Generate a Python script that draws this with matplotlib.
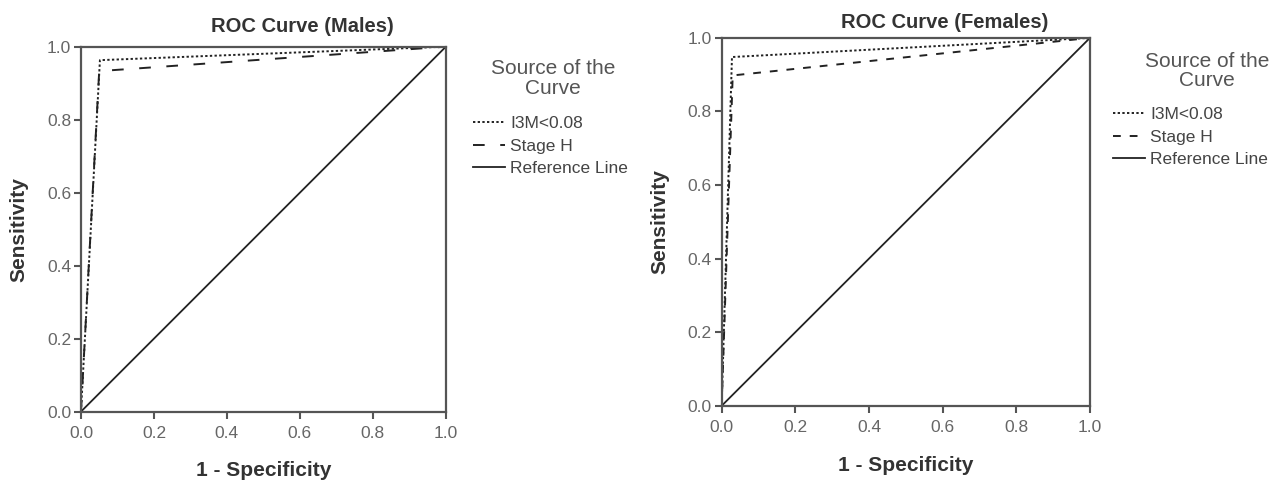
import matplotlib.pyplot as plt

plt.rcParams['font.family'] = ['Liberation Sans', 'DejaVu Sans']

# ROC points (1 - specificity, sensitivity)
males_i3m_fpr = [0.0, 0.052, 1.0]
males_i3m_tpr = [0.0, 0.963, 1.0]
males_stage_fpr = [0.0, 0.050, 1.0]
males_stage_tpr = [0.0, 0.933, 1.0]

females_i3m_fpr = [0.0, 0.028, 1.0]
females_i3m_tpr = [0.0, 0.948, 1.0]
females_stage_fpr = [0.0, 0.030, 1.0]
females_stage_tpr = [0.0, 0.898, 1.0]

ref_line = [0.0, 1.0]
ticks = [0.0, 0.2, 0.4, 0.6, 0.8, 1.0]
series_labels = ["I3M<0.08", "Stage H", "Reference Line"]

text_col = "#333333"
axis_col = "#555555"

W, H = 1285, 486
fig = plt.figure(figsize=(12.85, 4.86), dpi=100)
ax1 = fig.add_axes([0.063, 0.153, 0.284, 0.751])
ax2 = fig.add_axes([0.5616, 0.165, 0.2866, 0.757])


def draw_roc(ax, i3m_x, i3m_y, st_x, st_y, title, title_xy, leg_title_xy, legend_xy,
             xlab_y, ylab_x, dash):
    ax.plot(i3m_x, i3m_y, color="#222222", lw=1.4, linestyle=(0, (1.2, 1.2)), label=series_labels[0])
    ax.plot(st_x, st_y, color="#222222", lw=1.4, linestyle=(0, dash), label=series_labels[1])
    ax.plot(ref_line, ref_line, color="#222222", lw=1.3, label=series_labels[2])
    ax.set_xlim(0, 1)
    ax.set_ylim(0, 1)
    ax.set_xticks(ticks)
    ax.set_yticks(ticks)
    ax.set_xticklabels([f"{t:.1f}" for t in ticks])
    ax.set_yticklabels([f"{t:.1f}" for t in ticks])
    ax.tick_params(direction="out", length=5, width=1.5, color=axis_col,
                   labelsize=12.5, labelcolor="#666666", pad=2)
    ax.tick_params(axis="x", pad=5)
    for sp in ax.spines.values():
        sp.set_color(axis_col)
        sp.set_linewidth(1.6)
    ax.set_xlabel("1 - Specificity", fontsize=15, fontweight="bold", color=text_col, va="center")
    ax.set_ylabel("Sensitivity", fontsize=15, fontweight="bold", color=text_col, va="center")
    ax.xaxis.set_label_coords(0.5, xlab_y)
    ax.yaxis.set_label_coords(ylab_x, 0.5)
    fig.text(title_xy[0] / W, 1 - title_xy[1] / H, title, fontsize=14.5, fontweight="bold",
             color=text_col, ha="center", va="center")
    fig.text(leg_title_xy[0] / W, 1 - leg_title_xy[1] / H, "Source of the\nCurve",
             fontsize=15, color="#555555", ha="center", va="center",
             multialignment="center", linespacing=1.05)
    leg = ax.legend(loc="upper left", bbox_to_anchor=(legend_xy[0] / W, 1 - legend_xy[1] / H),
                    bbox_transform=fig.transFigure, frameon=False, fontsize=12.5,
                    handlelength=1.85, handletextpad=0.3, labelspacing=0.42,
                    borderaxespad=0, borderpad=0)
    plt.setp(leg.get_texts(), color="#444444")


draw_roc(ax1, males_i3m_fpr, males_i3m_tpr, males_stage_fpr, males_stage_tpr,
         "ROC Curve (Males)", (302, 27), (553, 78.5), (473, 116), -0.16, -0.17, (6, 8))
draw_roc(ax2, females_i3m_fpr, females_i3m_tpr, females_stage_fpr, females_stage_tpr,
         "ROC Curve (Females)", (945, 22), (1207, 71), (1113, 107), -0.161, -0.1675, (4, 4.6))

fig.savefig("out.png", dpi=100)
